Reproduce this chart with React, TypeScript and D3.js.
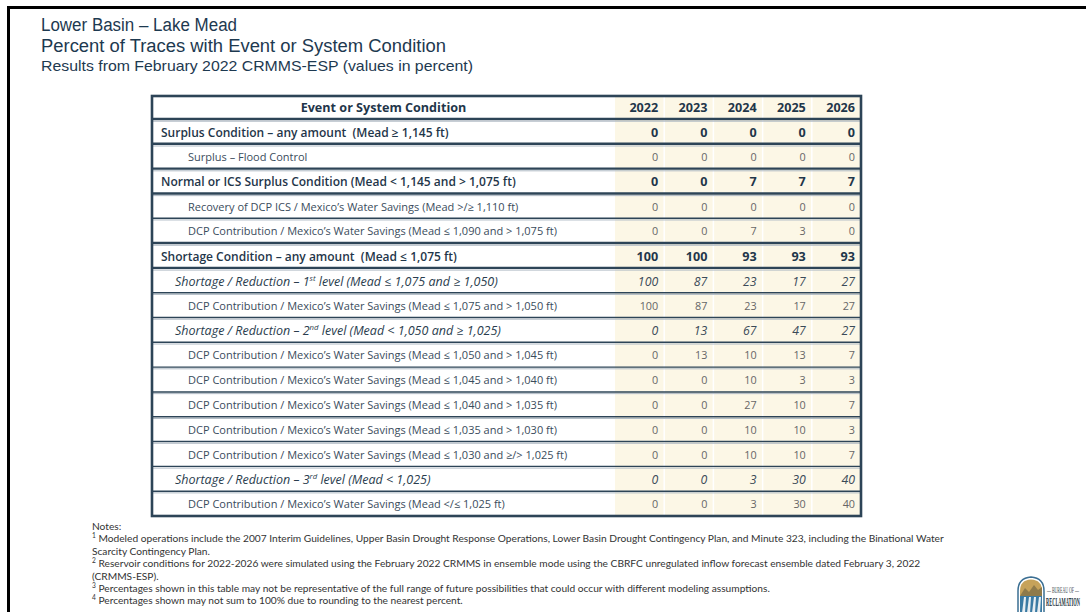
import React, { useLayoutEffect, useRef } from "react";
import * as d3 from "d3";

const years = ["2022", "2023", "2024", "2025", "2026"];

const conditions = [
  "Surplus Condition – any amount  (Mead ≥ 1,145 ft)",
  "Surplus – Flood Control",
  "Normal or ICS Surplus Condition (Mead < 1,145 and > 1,075 ft)",
  "Recovery of DCP ICS / Mexico’s Water Savings (Mead >/≥ 1,110 ft)",
  "DCP Contribution / Mexico’s Water Savings (Mead ≤ 1,090 and > 1,075 ft)",
  "Shortage Condition – any amount  (Mead ≤ 1,075 ft)",
  "Shortage / Reduction – 1st level (Mead ≤ 1,075 and ≥ 1,050)",
  "DCP Contribution / Mexico’s Water Savings (Mead ≤ 1,075 and > 1,050 ft)",
  "Shortage / Reduction – 2nd level (Mead < 1,050 and ≥ 1,025)",
  "DCP Contribution / Mexico’s Water Savings (Mead ≤ 1,050 and > 1,045 ft)",
  "DCP Contribution / Mexico’s Water Savings (Mead ≤ 1,045 and > 1,040 ft)",
  "DCP Contribution / Mexico’s Water Savings (Mead ≤ 1,040 and > 1,035 ft)",
  "DCP Contribution / Mexico’s Water Savings (Mead ≤ 1,035 and > 1,030 ft)",
  "DCP Contribution / Mexico’s Water Savings (Mead ≤ 1,030 and ≥/> 1,025 ft)",
  "Shortage / Reduction – 3rd level (Mead < 1,025)",
  "DCP Contribution / Mexico’s Water Savings (Mead </≤ 1,025 ft)",
];

// 0 = system condition, 1 = shortage tier, 2 = detail row
const levels = [0, 2, 0, 2, 2, 0, 1, 2, 1, 2, 2, 2, 2, 2, 1, 2];

const pct2022 = [0, 0, 0, 0, 0, 100, 100, 100, 0, 0, 0, 0, 0, 0, 0, 0];
const pct2023 = [0, 0, 0, 0, 0, 100, 87, 87, 13, 13, 0, 0, 0, 0, 0, 0];
const pct2024 = [0, 0, 7, 0, 7, 93, 23, 23, 67, 10, 10, 27, 10, 10, 3, 3];
const pct2025 = [0, 0, 7, 0, 3, 93, 17, 17, 47, 13, 3, 10, 10, 10, 30, 30];
const pct2026 = [0, 0, 7, 0, 0, 93, 27, 27, 27, 7, 3, 7, 3, 7, 40, 40];
const series = [pct2022, pct2023, pct2024, pct2025, pct2026];

const titleLines = [
  "Lower Basin – Lake Mead",
  "Percent of Traces with Event or System Condition",
  "Results from February 2022 CRMMS-ESP (values in percent)",
];

const noteMarks = ["", "1", "", "2", "", "3", "4"];
const noteLines = [
  "Notes:",
  "Modeled operations include the 2007 Interim Guidelines, Upper Basin Drought Response Operations, Lower Basin Drought Contingency Plan, and Minute 323, including the Binational Water",
  "Scarcity Contingency Plan.",
  "Reservoir conditions for 2022-2026 were simulated using the February 2022 CRMMS in ensemble mode using the CBRFC unregulated inflow forecast ensemble dated February 3, 2022",
  "(CRMMS-ESP).",
  "Percentages shown in this table may not be representative of the full range of future possibilities that could occur with different modeling assumptions.",
  "Percentages shown may not sum to 100% due to rounding to the nearest percent.",
];

const W = 1086;
const H = 612;
const NAVY = "#1f364a";
const LINE = "#2d4457";
const FONT = "'Open Sans', 'Noto Sans', sans-serif";
const SERIF = "'Liberation Serif', 'DejaVu Serif', serif";

const withOrdinal = (s: string) => {
  const m = s.match(/^(.*?\d)(st|nd|rd)(\s.*)$/);
  if (!m) return s;
  return [
    m[1],
    <tspan key="o" fontSize="0.62em" baselineShift="super">{m[2]}</tspan>,
    m[3],
  ];
};

// squeezes a text horizontally so it spans exactly `width` px
const FitText = ({ x, y, width, children, ...rest }: any) => {
  const ref = useRef<SVGTextElement>(null);
  useLayoutEffect(() => {
    const el = ref.current;
    if (!el) return;
    const len = el.getComputedTextLength();
    const sx = len > 0 ? width / len : 1;
    el.setAttribute("transform", `translate(${x},${y}) scale(${sx},1)`);
  });
  return (
    <text ref={ref} transform={`translate(${x},${y})`} {...rest}>
      {children}
    </text>
  );
};

const App = () => {
  const left = 152;
  const right = 861;
  const top = 96;
  const headBottom = 119;
  const bottom = 516;
  const splitX = 615;

  const y = d3.scaleBand<number>().domain(d3.range(conditions.length)).range([headBottom, bottom]);
  const x = d3.scaleBand<string>().domain(years).range([splitX, right]);

  const labelX = [left + 9, left + 23, left + 36];
  const labelStyle = [
    { fontSize: 12, fontWeight: 600, fontStyle: "normal", fill: NAVY },
    { fontSize: 12.5, fontWeight: 400, fontStyle: "italic", fill: "#2a3d4e" },
    { fontSize: 11, fontWeight: 400, fontStyle: "normal", fill: "#3a4c5c" },
  ];
  const valueStyle = [
    { fontSize: 12.6, fontWeight: 700, fontStyle: "normal", fill: NAVY },
    { fontSize: 12.3, fontWeight: 400, fontStyle: "italic", fill: "#3a4a58" },
    { fontSize: 10.8, fontWeight: 400, fontStyle: "normal", fill: "#666" },
  ];

  // row boundaries: index 0 is the header bottom
  const bounds = d3.range(conditions.length).map((i) => ({
    y: y(i) as number,
    heavy: i === 0 || levels[i] === 0 || levels[i - 1] === 0,
  }));

  const titleFit = [196, 405, 432];

  return (
    <svg width={W} height={H} style={{ display: "block", position: "absolute", left: 0, top: 0, background: "#fff" }}>
      {/* slide frame */}
      <path d={`M8.5,${H} V7.5 H${W}`} fill="none" stroke="#000" strokeWidth={3} />

      {/* titles */}
      <g fontFamily="'Liberation Sans', Arimo, sans-serif" fill="#1d3950">
        {titleLines.map((t, i) => (
          <text key={i} x={41} y={[31, 52, 71][i]} fontSize={i < 2 ? 17.6 : 15}
            textLength={titleFit[i]} lengthAdjust="spacingAndGlyphs">
            {t}
          </text>
        ))}
      </g>

      {/* table backgrounds */}
      <rect x={left} y={top} width={right - left} height={bottom - top} fill="#fff" />
      <rect x={splitX} y={top} width={right - splitX} height={bottom - top} fill="#fcf7e6" />
      {years.slice(1).map((yr) => (
        <line key={yr} x1={x(yr)} x2={x(yr)} y1={top} y2={bottom} stroke="#fff" strokeWidth={1.5} />
      ))}

      {/* row separators */}
      {bounds.map((b, i) => (
        <g key={i}>
          <line x1={left} x2={right} y1={b.y} y2={b.y} stroke={LINE} strokeWidth={b.heavy ? 2.4 : 1.4} />
          <line x1={left} x2={right} y1={b.y + (b.heavy ? 2.2 : 1.7)} y2={b.y + (b.heavy ? 2.2 : 1.7)} stroke="#aeb9c3" strokeWidth={1} />
        </g>
      ))}

      {/* outer border */}
      <rect x={left} y={top} width={right - left} height={bottom - top} fill="none" stroke={LINE} strokeWidth={2.6} />

      {/* header */}
      <g fontFamily={FONT} fontWeight={700} fill={NAVY} fontSize={12.6}>
        <text x={(left + splitX) / 2} y={(top + headBottom) / 2} dy="0.36em" textAnchor="middle">
          Event or System Condition
        </text>
        {years.map((yr) => (
          <text key={yr} x={(x(yr) as number) + x.bandwidth() - 6} y={(top + headBottom) / 2} dy="0.36em" textAnchor="end">
            {yr}
          </text>
        ))}
      </g>

      {/* rows */}
      <g fontFamily={FONT}>
        {conditions.map((label, i) => {
          const cy = (y(i) as number) + y.bandwidth() / 2 + 0.8;
          const ls = labelStyle[levels[i]];
          const vs = valueStyle[levels[i]];
          return (
            <g key={i}>
              <text x={labelX[levels[i]]} y={cy} dy="0.36em" style={{ whiteSpace: "pre" }} {...ls}>
                {withOrdinal(label)}
              </text>
              {years.map((yr, j) => (
                <text key={yr} x={(x(yr) as number) + x.bandwidth() - 6} y={cy} dy="0.36em" textAnchor="end" {...vs}>
                  {series[j][i]}
                </text>
              ))}
            </g>
          );
        })}
      </g>

      {/* notes */}
      <g fontFamily="Lato, 'Open Sans', sans-serif" fontSize={10.2} fill="#333">
        {noteLines.map((line, i) => (
          <text key={i} x={92} y={530 + i * 12.4}>
            {noteMarks[i] && (
              <tspan fontSize="0.65em" baselineShift="super">{noteMarks[i]}</tspan>
            )}
            {noteMarks[i] ? " " + line : line}
          </text>
        ))}
      </g>

      {/* agency logo */}
      <g>
        <path d="M1018,613 V591 Q1018,578 1031,577 Q1044,578 1044,591 V613 Z" fill="#fff" stroke="#3b6f93" strokeWidth={1.5} />
        <path d="M1020,596 V591 Q1020,580 1031,579.5 Q1042,580 1042,591 V596 Z" fill="#c6a25a" />
        <path d="M1020,596 L1025,588 L1029,592 L1034,585 L1038,590 L1042,587 V596 Z" fill="#8f7a4a" />
        <path d="M1020,596 H1042 V613 H1020 Z" fill="#3a7aa3" />
        {[1022, 1027, 1032, 1037].map((px) => (
          <path key={px} d={`M${px},613 L${px + 2},597 L${px + 4},597 L${px + 3},613 Z`} fill="#e8eef2" />
        ))}
        <FitText x={1047} y={593} width={32} fontFamily={SERIF} fontSize={8} fill="#33414b">
          — BUREAU OF —
        </FitText>
        <FitText x={1046} y={606} width={34} fontFamily={SERIF} fontSize={12.5} fontWeight={700} fill="#22313b">
          RECLAMATION
        </FitText>
      </g>
    </svg>
  );
};

export default App;
